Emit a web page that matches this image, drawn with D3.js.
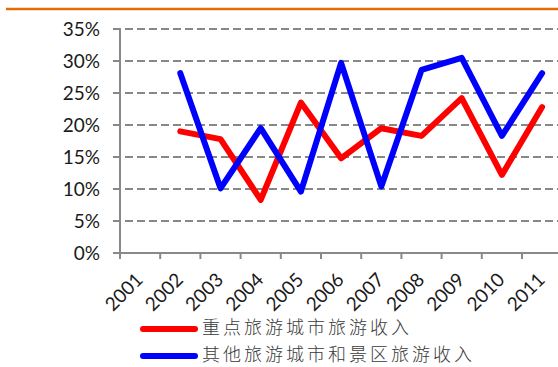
<!DOCTYPE html>
<html><head><meta charset="utf-8">
<script src="https://cdn.jsdelivr.net/npm/d3@7"></script>
<style>
html,body{margin:0;padding:0;background:#fff;}
svg{display:block;}
</style></head>
<body>
<svg id="chart" width="558" height="367"></svg>
<script>
const years = ["2001","2002","2003","2004","2005","2006","2007","2008","2009","2010","2011"];
const seriesNames = ["重点旅游城市旅游收入","其他旅游城市和景区旅游收入"];
const redValues  = [null, 19.0, 17.8, 8.3, 23.5, 14.8, 19.5, 18.3, 24.2, 12.2, 22.8];
const blueValues = [null, 28.1, 10.1, 19.5, 9.6, 29.7, 10.4, 28.6, 30.5, 18.3, 28.1];
const yTicks = [0,5,10,15,20,25,30,35];
const colors = ["#FF0000","#0000FF"];

const svg = d3.select("#chart");
const W = 558;

// top orange rule
svg.append("line").attr("x1",6).attr("x2",W).attr("y1",9).attr("y2",9)
  .attr("stroke","#E36C0A").attr("stroke-width",2.5);

const x = d3.scaleBand().domain(years).range([120, 562.2]).padding(0);
const y = d3.scaleLinear().domain([0,35]).range([253,29]);

// gridlines
svg.append("g").selectAll("line").data(yTicks.filter(d=>d>0)).join("line")
  .attr("x1",113).attr("x2",W)
  .attr("y1",d=>y(d)).attr("y2",d=>y(d))
  .attr("stroke","#878787").attr("stroke-width",2).attr("stroke-dasharray","8,4");

// y axis
const yAxis = svg.append("g").attr("transform","translate(120,0)")
  .call(d3.axisLeft(y).tickValues(yTicks).tickFormat(d=>d+"%").tickSize(0).tickPadding(20));
yAxis.select(".domain").remove();
yAxis.selectAll("text").attr("font-family","Lato, 'Open Sans', sans-serif").attr("font-size",19).attr("fill","#1a1a1a");
svg.append("line").attr("x1",120).attr("x2",120).attr("y1",y(35)).attr("y2",y(0))
  .attr("stroke","#898989").attr("stroke-width",2);

// x axis line
svg.append("line").attr("x1",113).attr("x2",W).attr("y1",y(0)).attr("y2",y(0))
  .attr("stroke","#898989").attr("stroke-width",2);
// x ticks at band edges
svg.append("g").selectAll("line").data(years).join("line")
  .attr("x1",d=>x(d)).attr("x2",d=>x(d))
  .attr("y1",y(0)).attr("y2",y(0)+6)
  .attr("stroke","#898989").attr("stroke-width",2);
// x labels
svg.append("g").selectAll("text").data(years).join("text")
  .attr("transform",d=>`translate(${x(d)+x.bandwidth()/2+4},281) rotate(-45)`)
  .attr("text-anchor","end")
  .attr("font-family","Lato, 'Open Sans', sans-serif").attr("font-size",19).attr("fill","#1a1a1a")
  .text(d=>d);

// lines
const line = d3.line()
  .defined(d=>d.v!=null)
  .x(d=>x(d.year)+x.bandwidth()/2)
  .y(d=>y(d.v));
[redValues, blueValues].forEach((vals,i)=>{
  svg.append("path")
    .datum(years.map((yr,j)=>({year:yr, v:vals[j]})))
    .attr("d",line)
    .attr("fill","none").attr("stroke",colors[i]).attr("stroke-width",6)
    .attr("stroke-linejoin","round").attr("stroke-linecap","round");
});

// legend
const leg = svg.append("g").selectAll("g").data(seriesNames).join("g")
  .attr("transform",(d,i)=>`translate(0,${329+i*27})`);
leg.append("line").attr("x1",143).attr("x2",195).attr("y1",0).attr("y2",0)
  .attr("stroke",(d,i)=>colors[i]).attr("stroke-width",6).attr("stroke-linecap","round");
leg.append("text").attr("x",202).attr("y",0).attr("dy","0.3em")
  .attr("font-family","'Noto Sans CJK SC', sans-serif").attr("font-size",18)
  .attr("font-weight",300)
  .attr("letter-spacing",3).attr("fill","#3a3a3a")
  .text(d=>d);
</script>
</body></html>
